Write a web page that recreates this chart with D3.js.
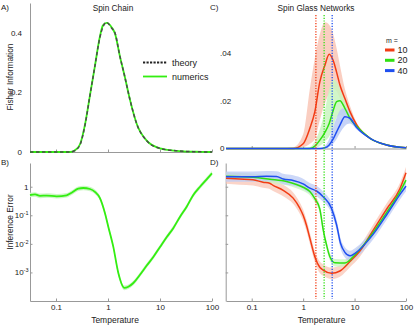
<!DOCTYPE html>
<html>
<head>
<meta charset="utf-8">
<script src="https://cdn.jsdelivr.net/npm/d3@7/dist/d3.min.js"></script>
<style>
  body { margin: 0; background: #fff; }
  text { font-family: "Liberation Sans", Arial, sans-serif; fill: #222; }
</style>
</head>
<body>
<svg id="fig" width="416" height="328"></svg>
<script>
// ---- A) spin chain, fisher information
var chainT        = [0.0316, 0.1, 0.186, 0.232, 0.29, 0.361, 0.45, 0.562, 0.70, 0.80, 0.94, 1.18, 1.36, 1.70, 2.12, 2.65, 3.56, 5.55, 10, 21, 47, 100];
var chainTheory   = [0, 0, 0, 0.005, 0.024, 0.09, 0.19, 0.29, 0.385, 0.42, 0.435, 0.415, 0.40, 0.32, 0.25, 0.175, 0.095, 0.038, 0.012, 0.004, 0.001, 0];
var chainNumerics = [0, 0, 0, 0.006, 0.026, 0.092, 0.19, 0.29, 0.388, 0.425, 0.433, 0.418, 0.398, 0.32, 0.25, 0.175, 0.095, 0.038, 0.012, 0.004, 0.001, 0];

// ---- B) spin chain, inference error (log10)
var chainErrT   = [0.0316, 0.0395, 0.0492, 0.0662, 0.103, 0.16, 0.2, 0.268, 0.335, 0.45, 0.56, 0.70, 0.875, 1.01, 1.26, 1.58, 2.06, 2.46, 3.07, 4.12, 5.55, 7.43, 10, 13.5, 18, 24.3, 32.6, 43.7, 58.9, 79, 100];
var chainErrLog = [-0.29, -0.27, -0.32, -0.31, -0.335, -0.30, -0.21, -0.07, -0.045, -0.08, -0.18, -0.40, -0.93, -1.39, -2.09, -3.02, -3.54, -3.5, -3.37, -3.08, -2.76, -2.46, -2.11, -1.76, -1.45, -1.05, -0.70, -0.29, 0, 0.26, 0.47];
var chainErrSpread = 0.08;

// ---- C) spin glass, fisher information per m
var glassT    = [0.0316, 0.3, 0.64, 1.0, 1.35, 1.69, 2.11, 2.65, 3.21, 3.84, 4.48, 5.19, 6.49, 8.13, 11, 20, 42, 100];
var fisher10   = [0, 0, 0, 0.002, 0.0085, 0.0155, 0.028, 0.035, 0.0396, 0.037, 0.032, 0.0267, 0.021, 0.0155, 0.0099, 0.0043, 0.0015, 0.0003];
var fisher10Lo = [0, 0, 0, 0.0005, 0.002, 0.004, 0.012, 0.019, 0.023, 0.025, 0.024, 0.021, 0.018, 0.014, 0.009, 0.004, 0.0014, 0.0003];
var fisher10Hi = [0, 0, 0.0005, 0.006, 0.025, 0.038, 0.048, 0.053, 0.052, 0.048, 0.042, 0.035, 0.025, 0.018, 0.0108, 0.0046, 0.0016, 0.0003];
var fisher20   = [0, 0, 0, 0, 0, 0.001, 0.0035, 0.0068, 0.0105, 0.016, 0.0197, 0.0201, 0.0169, 0.0127, 0.0093, 0.0043, 0.0015, 0.0003];
var fisher20Lo = [0, 0, 0, 0, 0, 0.0003, 0.001, 0.003, 0.005, 0.009, 0.013, 0.014, 0.013, 0.011, 0.0088, 0.004, 0.0014, 0.0003];
var fisher20Hi = [0, 0, 0, 0, 0.0005, 0.003, 0.008, 0.016, 0.025, 0.029, 0.028, 0.025, 0.02, 0.015, 0.0098, 0.0046, 0.0016, 0.0003];
var fisher40   = [0, 0, 0, 0, 0, 0, 0, 0.0003, 0.0015, 0.004, 0.007, 0.0098, 0.0133, 0.0127, 0.0088, 0.0043, 0.0015, 0.0003];
var fisher40Lo = [0, 0, 0, 0, 0, 0, 0, 0, 0.0005, 0.002, 0.004, 0.0065, 0.0095, 0.0105, 0.008, 0.004, 0.0014, 0.0003];
var fisher40Hi = [0, 0, 0, 0, 0, 0, 0, 0.001, 0.004, 0.009, 0.013, 0.016, 0.017, 0.0148, 0.0095, 0.0046, 0.0016, 0.0003];
var glassM    = ["10", "20", "40"];
var critT     = [1.77, 2.56, 3.67];

// ---- D) spin glass, inference error (log10) per m
var err10T   = [0.0316, 0.0585, 0.106, 0.166, 0.224, 0.26, 0.41, 0.64, 0.86, 1.0, 1.16, 1.35, 1.69, 2.11, 2.45, 3.57, 5.19, 8.13, 12.7, 23.1, 42.2, 76.5, 100];
var err10Log = [0.30, 0.27, 0.24, 0.16, 0.12, 0.05, -0.13, -0.4, -0.75, -1.0, -1.35, -1.8, -2.45, -2.82, -2.92, -3.03, -2.95, -2.62, -2.25, -1.52, -0.78, -0.06, 0.49];
var err20T   = [0.0316, 0.106, 0.224, 0.475, 0.74, 1.0, 1.35, 1.69, 2.11, 2.45, 2.86, 3.31, 4.15, 6.49, 10.2, 23.1, 42.2, 76.5, 100];
var err20Log = [0.37, 0.33, 0.26, 0.18, 0.08, -0.02, -0.17, -0.42, -0.78, -1.5, -2.05, -2.45, -2.66, -2.67, -2.38, -1.6, -0.9, -0.17, 0.23];
var err40T   = [0.0316, 0.0585, 0.106, 0.194, 0.303, 0.41, 0.64, 1.0, 1.35, 1.82, 2.45, 3.57, 4.48, 5.33, 6.49, 8.13, 10.2, 23.1, 42.2, 76.5, 100];
var err40Log = [0.35, 0.35, 0.35, 0.37, 0.36, 0.27, 0.22, 0.1, -0.05, -0.15, -0.35, -0.76, -1.34, -1.98, -2.3, -2.42, -2.33, -1.66, -0.98, -0.27, 0.02];
var errSpread = [0.2, 0.13, 0.18];

var tempTicks    = [0.1, 1, 10, 100];
var fisherTicksA = [0, 0.2, 0.4];
var fisherTicksC = [0, 0.02, 0.04];
var errTicks     = [0, -1, -2, -3];

var colors = ["#f23c14", "#2fe010", "#1f4ff0"];
var bandColors = ["#f9c6b6", "#c9f5c0", "#bccbf6"];

var svg = d3.select("#fig");
var pow10 = function(v) { return Math.pow(10, v); };

var xA = d3.scaleLog().domain([pow10(-1.5), 100]).range([30, 212]);
var xC = d3.scaleLog().domain([pow10(-1.5), 100]).range([226, 406]);
var yA = d3.scaleLinear().domain([0, 0.5]).range([152, 3]);
var yC = d3.scaleLinear().domain([0, 0.061]).range([148.5, 3.3]);
var yB = d3.scaleLog().domain([1e-4, pow10(0.83)]).range([301, 163]);

function zip(xs, ys) { return xs.map(function(x, i) { return [x, ys[i]]; }); }

function styleAxis(g) {
  g.attr("font-family", null).attr("font-size", null);
  g.selectAll("path.domain").attr("stroke", "#999");
  g.selectAll(".tick line").attr("stroke", "#999");
  g.selectAll(".tick text").attr("font-size", 8).attr("fill", "#222");
}

// ---------- axes
// A
svg.append("g").attr("transform", "translate(0,152)")
  .call(d3.axisBottom(xA).tickValues(tempTicks).tickSizeInner(-2.5).tickSizeOuter(0).tickFormat(""))
  .call(styleAxis);
svg.append("g").attr("transform", "translate(30,0)")
  .call(d3.axisLeft(yA).tickValues(fisherTicksA).tickSize(0).tickPadding(8)
    .tickFormat(function(d) { return d === 0 ? "0" : d3.format(".1f")(d); }))
  .call(styleAxis);

// C
svg.append("g").attr("transform", "translate(0,148.5)")
  .call(d3.axisBottom(xC).tickValues(tempTicks).tickSizeInner(-2.5).tickSizeOuter(0).tickFormat(""))
  .call(styleAxis);
svg.append("g").selectAll("text").data(fisherTicksC).join("text")
  .attr("x", 220).attr("y", function(d) { return yC(d); }).attr("dy", "0.35em")
  .attr("font-size", 8)
  .text(function(d) { return d === 0 ? "0" : d3.format(".2f")(d).replace(/^0/, ""); });

// B and D
[[xA, 30], [xC, 225.7]].forEach(function(p) {
  svg.append("g").attr("transform", "translate(0,301)")
    .call(d3.axisBottom(p[0]).tickValues(tempTicks).tickSizeInner(-2.5).tickSizeOuter(0).tickPadding(3)
      .tickFormat(d3.format("~g")))
    .call(styleAxis);
  svg.append("g").attr("transform", "translate(" + p[1] + ",0)")
    .call(d3.axisLeft(yB).tickValues(errTicks.map(pow10)).tickSizeInner(-2.5).tickSizeOuter(0)
      .tickFormat(""))
    .call(styleAxis);
});

// B tick labels with superscript exponents
var errLabels = svg.append("g").selectAll("text").data(errTicks).join("text")
  .attr("x", 28.5).attr("y", function(e) { return yB(pow10(e)); }).attr("dy", "0.35em")
  .attr("text-anchor", "end").attr("font-size", 8);
errLabels.filter(function(e) { return e === 0; }).text("1");
errLabels.filter(function(e) { return e !== 0; }).each(function(e) {
  var t = d3.select(this);
  t.append("tspan").text("10");
  t.append("tspan").attr("dy", "-3").attr("font-size", 5.5).text("-" + (-e));
});

// ---------- A curves
var lineA = d3.line().x(function(d) { return xA(d[0]); }).y(function(d) { return yA(d[1]); })
  .curve(d3.curveMonotoneX);
svg.append("path").attr("d", lineA(zip(chainT, chainNumerics)))
  .attr("fill", "none").attr("stroke", "#33ee11").attr("stroke-width", 1.8);
svg.append("path").attr("d", lineA(zip(chainT, chainTheory)))
  .attr("fill", "none").attr("stroke", "#4a4a4a").attr("stroke-width", 1.5).attr("stroke-dasharray", "3.5,2.5");

// legend A
svg.append("line").attr("x1", 143).attr("x2", 167).attr("y1", 62.5).attr("y2", 62.5)
  .attr("stroke", "#222").attr("stroke-width", 1.8).attr("stroke-dasharray", "2.2,1.3");
svg.append("line").attr("x1", 143).attr("x2", 167).attr("y1", 76.5).attr("y2", 76.5)
  .attr("stroke", "#33ee11").attr("stroke-width", 1.8);
svg.append("text").attr("x", 172).attr("y", 62.5).attr("dy", "0.35em").attr("font-size", 9).text("theory");
svg.append("text").attr("x", 172).attr("y", 76.5).attr("dy", "0.35em").attr("font-size", 9).text("numerics");

// ---------- B curve
var bandB = d3.area().x(function(d) { return xA(d[0]); })
  .y0(function(d) { return yB(pow10(d[1] - chainErrSpread)); })
  .y1(function(d) { return yB(pow10(d[1] + chainErrSpread)); })
  .curve(d3.curveMonotoneX);
svg.append("path").attr("d", bandB(zip(chainErrT, chainErrLog))).attr("fill", "#cdf6c6");
var lineB = d3.line().x(function(d) { return xA(d[0]); }).y(function(d) { return yB(pow10(d[1])); })
  .curve(d3.curveMonotoneX);
svg.append("path").attr("d", lineB(zip(chainErrT, chainErrLog)))
  .attr("fill", "none").attr("stroke", "#33ee11").attr("stroke-width", 1.8);

// ---------- C curves
var fisherMean = [fisher10, fisher20, fisher40];
var fisherLo = [fisher10Lo, fisher20Lo, fisher40Lo];
var fisherHi = [fisher10Hi, fisher20Hi, fisher40Hi];
var areaC = d3.area().x(function(d) { return xC(d[0]); })
  .y0(function(d) { return yC(d[1]); }).y1(function(d) { return yC(d[2]); })
  .curve(d3.curveMonotoneX);
var lineC = d3.line().x(function(d) { return xC(d[0]); }).y(function(d) { return yC(d[1]); })
  .curve(d3.curveMonotoneX);
glassM.forEach(function(m, i) {
  var pts = glassT.map(function(t, j) { return [t, fisherLo[i][j], fisherHi[i][j]]; });
  svg.append("path").attr("d", areaC(pts)).attr("fill", bandColors[i]).attr("opacity", 0.85);
});
glassM.forEach(function(m, i) {
  svg.append("path").attr("d", lineC(zip(glassT, fisherMean[i])))
    .attr("fill", "none").attr("stroke", colors[i]).attr("stroke-width", 1.5);
});

// ---------- D curves
var errTs = [err10T, err20T, err40T];
var errLogs = [err10Log, err20Log, err40Log];
glassM.forEach(function(m, i) {
  var band = d3.area().x(function(d) { return xC(d[0]); })
    .y0(function(d) { return yB(pow10(d[1] - errSpread[i])); })
    .y1(function(d) { return yB(pow10(d[1] + errSpread[i])); })
    .curve(d3.curveMonotoneX);
  svg.append("path").attr("d", band(zip(errTs[i], errLogs[i]))).attr("fill", bandColors[i]).attr("opacity", 0.75);
});
var lineD = d3.line().x(function(d) { return xC(d[0]); }).y(function(d) { return yB(pow10(d[1])); })
  .curve(d3.curveMonotoneX);
glassM.forEach(function(m, i) {
  svg.append("path").attr("d", lineD(zip(errTs[i], errLogs[i])))
    .attr("fill", "none").attr("stroke", colors[i]).attr("stroke-width", 1.5);
});

// critical temperatures
svg.append("g").selectAll("line").data(critT).join("line")
  .attr("x1", function(d) { return xC(d); }).attr("x2", function(d) { return xC(d); })
  .attr("y1", 15).attr("y2", 299)
  .attr("stroke", function(d, i) { return colors[i]; })
  .attr("stroke-width", 1.3).attr("stroke-dasharray", "1.2,1.5");

// legend C
svg.append("text").attr("x", 386).attr("y", 41).attr("dy", "0.35em").attr("font-size", 7).text("m =");
glassM.forEach(function(m, i) {
  var y = 50 + i * 10.3;
  svg.append("line").attr("x1", 385).attr("x2", 394.5).attr("y1", y).attr("y2", y)
    .attr("stroke", colors[i]).attr("stroke-width", 3);
  svg.append("text").attr("x", 397.5).attr("y", y).attr("dy", "0.35em").attr("font-size", 9).text(m);
});

// ---------- titles and labels
svg.append("text").attr("x", 113).attr("y", 8).attr("dy", "0.35em").attr("text-anchor", "middle")
  .attr("font-size", 8.3).text("Spin Chain");
svg.append("text").attr("x", 316).attr("y", 8).attr("dy", "0.35em").attr("text-anchor", "middle")
  .attr("font-size", 8.3).text("Spin Glass Networks");
[["A)", 1, 7], ["B)", 1, 162], ["C)", 210, 7], ["D)", 210, 162]].forEach(function(p) {
  svg.append("text").attr("x", p[1]).attr("y", p[2]).attr("dy", "0.35em").attr("font-size", 8).text(p[0]);
});
svg.append("text").attr("transform", "translate(10,77) rotate(-90)").attr("dy", "0.35em")
  .attr("text-anchor", "middle").attr("font-size", 8.3).text("Fisher Information");
svg.append("text").attr("transform", "translate(10,222) rotate(-90)").attr("dy", "0.35em")
  .attr("text-anchor", "middle").attr("font-size", 8.3).text("Inference Error");
svg.append("text").attr("x", 115).attr("y", 320.5).attr("dy", "0.35em").attr("text-anchor", "middle")
  .attr("font-size", 8.5).text("Temperature");
svg.append("text").attr("x", 321.5).attr("y", 320).attr("dy", "0.35em").attr("text-anchor", "middle")
  .attr("font-size", 8.5).text("Temperature");
</script>
</body>
</html>
